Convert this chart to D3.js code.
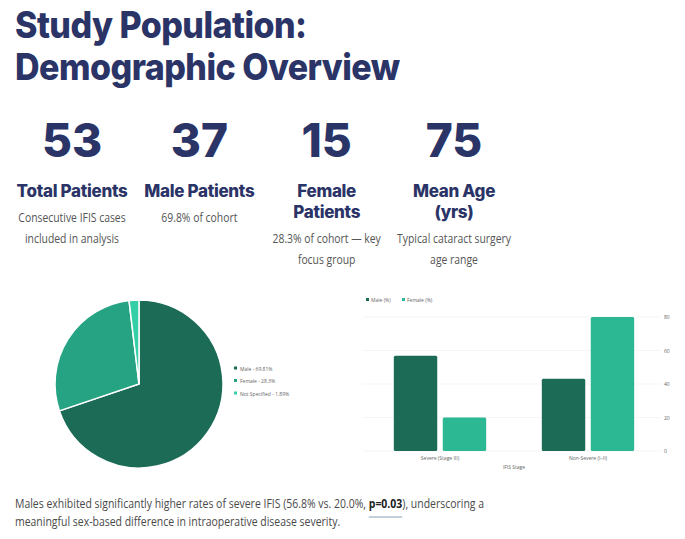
<!DOCTYPE html>
<html>
<head>
<meta charset="utf-8">
<script src="https://cdn.jsdelivr.net/npm/d3@7"></script>
<style>
  body { margin: 0; background: #fff; }
  svg { display: block; }
</style>
</head>
<body>
<div id="chart"></div>
<script>
// headline stats
const statValues = ["53", "37", "15", "75"];
const statTitles = [["Total Patients"], ["Male Patients"], ["Female", "Patients"], ["Mean Age", "(yrs)"]];
const statNotes = [
  ["Consecutive IFIS cases", "included in analysis"],
  ["69.8% of cohort"],
  ["28.3% of cohort \u2014 key", "focus group"],
  ["Typical cataract surgery", "age range"]
];

// pie: sex distribution
const sexLabels = ["Male", "Female", "Not Specified"];
const sexShares = [69.81, 28.3, 1.89];

// bars: IFIS stage by sex
const stages = ["Severe (Stage III)", "Non-Severe (I\u2013II)"];
const barSeries = ["Male (%)", "Female (%)"];
const malePct = [56.8, 43.2];
const femalePct = [20.0, 80.0];
const yTicks = [0, 20, 40, 60, 80];

const navy = "#2b3467";
const pieColors = ["#1b6b56", "#25a383", "#34cea7"];
const barColors = ["#1b6b56", "#2bb893"];

const W = 685, H = 539;
const svg = d3.select("#chart").append("svg")
  .attr("width", W).attr("height", H);

// title
svg.append("g").selectAll("text")
  .data(["Study Population:", "Demographic Overview"])
  .join("text")
  .attr("transform", (d, i) => "translate(15," + (38 + i * 42) + ") scale(0.92,1)")
  .attr("font-family", "Inter")
  .attr("font-weight", 800)
  .attr("font-size", 37)
  .attr("letter-spacing", -0.6)
  .attr("fill", navy)
  .text(d => d);

// stat columns
const colX = d3.scalePoint().domain(d3.range(4)).range([72, 454]);
const stat = svg.append("g").selectAll("g")
  .data(statValues)
  .join("g")
  .attr("transform", (d, i) => "translate(" + colX(i) + ",0)")
  .attr("text-anchor", "middle");

stat.append("text")
  .attr("y", 157)
  .attr("font-family", "Inter")
  .attr("font-weight", 800)
  .attr("font-size", 46)
  .attr("fill", navy)
  .text(d => d);

stat.each(function(d, i) {
  const g = d3.select(this);
  statTitles[i].forEach((t, j) => {
    g.append("text")
      .attr("y", 197 + j * 21)
      .attr("font-family", "Inter")
      .attr("font-weight", 800)
      .attr("font-size", 17)
      .attr("letter-spacing", -0.3)
      .attr("fill", navy)
      .text(t);
  });
  const noteY = statTitles[i].length > 1 ? 243 : 222;
  statNotes[i].forEach((t, j) => {
    g.append("text")
      .attr("transform", "translate(0," + (noteY + j * 20.5) + ") scale(0.77,1)")
      .attr("font-family", "Open Sans")
      .attr("font-size", 13.5)
      .attr("fill", "#555")
      .text(t);
  });
});

// pie chart
const pie = d3.pie().sort(null).value(d => d)(sexShares);
const arc = d3.arc().innerRadius(0).outerRadius(84);
const pieG = svg.append("g").attr("transform", "translate(139,384)");
pieG.selectAll("path")
  .data(pie)
  .join("path")
  .attr("d", arc)
  .attr("fill", (d, i) => pieColors[i])
  .attr("stroke", "#fff")
  .attr("stroke-width", 1.5);

const pieLegend = svg.append("g").selectAll("g")
  .data(sexLabels)
  .join("g")
  .attr("transform", (d, i) => "translate(234," + (369 + i * 12.5) + ")");
pieLegend.append("rect")
  .attr("x", 0).attr("y", -2.5)
  .attr("width", 3).attr("height", 3)
  .attr("fill", (d, i) => pieColors[i]);
pieLegend.append("text")
  .attr("x", 6).attr("y", 1.5)
  .attr("font-family", "Open Sans")
  .attr("font-size", 5)
  .attr("fill", "#666")
  .text((d, i) => d + " - " + sexShares[i] + "%");

// grouped bars
const x0 = d3.scaleBand().domain(stages).range([366, 662])
  .paddingInner(0.376).paddingOuter(0.188);
const x1 = d3.scaleBand().domain(barSeries).range([0, x0.bandwidth()])
  .paddingInner(0.113);
const y = d3.scaleLinear().domain([0, 80]).range([451, 317]);

svg.append("g").selectAll("line")
  .data(yTicks)
  .join("line")
  .attr("x1", 363).attr("x2", 660)
  .attr("y1", d => y(d)).attr("y2", d => y(d))
  .attr("stroke", "#eeeeee")
  .attr("stroke-width", 0.6);

const rows = stages.map((s, i) => ({ stage: s, vals: [malePct[i], femalePct[i]] }));
svg.append("g").selectAll("g")
  .data(rows)
  .join("g")
  .attr("transform", d => "translate(" + x0(d.stage) + ",0)")
  .selectAll("rect")
  .data(d => d.vals.map((v, k) => ({ key: barSeries[k], v: v, k: k })))
  .join("rect")
  .attr("x", d => x1(d.key))
  .attr("y", d => y(d.v))
  .attr("width", x1.bandwidth())
  .attr("height", d => y(0) - y(d.v))
  .attr("rx", 1.5)
  .attr("fill", d => barColors[d.k]);

const yAxis = svg.append("g")
  .attr("transform", "translate(662,0)")
  .call(d3.axisRight(y).tickValues(yTicks).tickSize(0).tickPadding(2));
yAxis.select(".domain").remove();
yAxis.selectAll("text")
  .attr("font-family", "Open Sans")
  .attr("font-size", 5)
  .attr("fill", "#666");

const xAxis = svg.append("g")
  .attr("transform", "translate(0,453)")
  .call(d3.axisBottom(x0).tickSize(0).tickPadding(3));
xAxis.select(".domain").remove();
xAxis.selectAll("text")
  .attr("font-family", "Open Sans")
  .attr("font-size", 5)
  .attr("fill", "#666");

svg.append("text")
  .attr("x", (366 + 662) / 2)
  .attr("y", 469)
  .attr("text-anchor", "middle")
  .attr("font-family", "Open Sans")
  .attr("font-size", 5)
  .attr("fill", "#666")
  .text("IFIS Stage");

const barLegend = svg.append("g").selectAll("g")
  .data(barSeries)
  .join("g")
  .attr("transform", (d, i) => "translate(" + (366 + i * 36) + ",300)");
barLegend.append("rect")
  .attr("x", 0).attr("y", -2)
  .attr("width", 3).attr("height", 3)
  .attr("fill", (d, i) => barColors[i]);
barLegend.append("text")
  .attr("x", 5).attr("y", 1.5)
  .attr("font-family", "Open Sans")
  .attr("font-size", 5)
  .attr("fill", "#666")
  .text(d => d);

// footnote (narrow type, so squeeze horizontally)
const foot = svg.append("g")
  .attr("transform", "translate(15,0) scale(0.805,1)")
  .attr("font-family", "Open Sans")
  .attr("font-size", 13)
  .attr("fill", "#4a4a4a");
const line1 = foot.append("text").attr("x", 0).attr("y", 508);
line1.append("tspan").text("Males exhibited significantly higher rates of severe IFIS (56.8% vs. 20.0%, ");
const pSpan = line1.append("tspan").attr("font-weight", 700).attr("fill", "#222").text("p=0.03");
line1.append("tspan").text("), underscoring a");
foot.append("text").attr("x", 0).attr("y", 526)
  .text("meaningful sex-based difference in intraoperative disease severity.");

// underline under the p-value
const pNode = pSpan.node();
const start = pNode.getStartPositionOfChar(0).x;
const end = pNode.getEndPositionOfChar(pNode.getNumberOfChars() - 1).x;
foot.append("line")
  .attr("x1", start).attr("x2", end)
  .attr("y1", 517).attr("y2", 517)
  .attr("stroke", "#8aa0bd")
  .attr("stroke-width", 1.2);
</script>
</body>
</html>
